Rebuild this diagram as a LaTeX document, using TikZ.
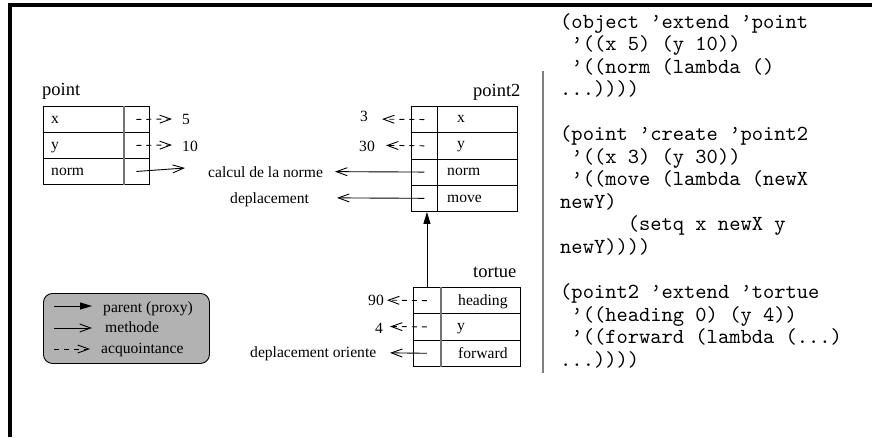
\documentclass[tikz,border=0pt]{standalone}
\usepackage{fontspec}
\setmainfont{Liberation Serif}
\newfontfamily\codefont{lmmono10-regular.otf}
\usetikzlibrary{arrows.meta}
\tikzset{
  cell/.style={draw, line width=0.9pt, inner sep=0pt, anchor=north west},
  divline/.style={draw=black!55, line width=1.6pt},
  txt/.style={font=\fontsize{15.6}{18}\selectfont, inner sep=0pt, anchor=base west},
  ttl/.style={font=\fontsize{18.5}{22}\selectfont, inner sep=0pt, anchor=base west},
  code/.style={font=\codefont\fontsize{21.47}{22.5}\selectfont, inner sep=0pt, anchor=base west},
  meth/.style={line width=0.9pt, -{Straight Barb[length=11pt,width=8pt]}},
  acq/.style={meth, dash pattern=on 5pt off 5pt},
  parent/.style={line width=0.9pt, -{Triangle[length=12pt,width=7pt]}},
}
\begin{document}
\begin{tikzpicture}[x=1pt,y=-1pt]
\useasboundingbox (0,0) rectangle (872,437);
% frame
\draw[line width=3.5pt] (10,437) -- (10,5) -- (872,5);
% separator
\draw[draw=black!50, line width=1.5pt] (543,71) -- (543,373);

% ---------- point ----------
\node[ttl] (tpoint) at (42,95) {point};
\node[cell, minimum width=80pt, minimum height=26pt] (pxk) at (43,106) {};
\node[cell, minimum width=26pt, minimum height=26pt] (pxv) at (123,106) {};
\node[cell, minimum width=80pt, minimum height=26pt] (pyk) at (43,132) {};
\node[cell, minimum width=26pt, minimum height=26pt] (pyv) at (123,132) {};
\node[cell, minimum width=80pt, minimum height=26pt] (pnk) at (43,158) {};
\node[cell, minimum width=26pt, minimum height=26pt] (pnv) at (123,158) {};
\draw[divline] (pxk.north east) -- (pnk.south east);
\node[txt] (lpx) at (51,123) {x};
\node[txt] (lpy) at (51,149) {y};
\node[txt] (lpn) at (51,175) {norm};
\node[txt] (v5) at (182,124) {5};
\node[txt] (v10) at (182,151) {10};
\coordinate (t5) at (172,119);
\coordinate (t10) at (172,145);
\coordinate (tn) at (185,168);
\draw[acq] (pxv.center) -- (t5);
\draw[acq] (pyv.center) -- (t10);
\draw[meth] (pnv.center) -- (tn);

\node[txt] (calc) at (208,177) {calcul de la norme};
\node[txt] (depl) at (230,203) {deplacement};

% ---------- point2 ----------
\node[ttl] (tpoint2) at (473,96) {point2};
\node[cell, minimum width=26pt, minimum height=26.25pt] (p2xk) at (411,106) {};
\node[cell, minimum width=80pt, minimum height=26.25pt] (p2xn) at (437,106) {};
\node[cell, minimum width=26pt, minimum height=26.25pt] (p2yk) at (411,132.25) {};
\node[cell, minimum width=80pt, minimum height=26.25pt] (p2yn) at (437,132.25) {};
\node[cell, minimum width=26pt, minimum height=26.25pt] (p2nk) at (411,158.5) {};
\node[cell, minimum width=80pt, minimum height=26.25pt] (p2nn) at (437,158.5) {};
\node[cell, minimum width=26pt, minimum height=26.25pt] (p2mk) at (411,184.75) {};
\node[cell, minimum width=80pt, minimum height=26.25pt] (p2mn) at (437,184.75) {};
\node[txt] (lp2x) at (457,122) {x};
\node[txt] (lp2y) at (457,148) {y};
\node[txt] (lp2n) at (447,175) {norm};
\node[txt] (lp2m) at (447,202) {move};
\node[txt] (v3) at (360,121) {3};
\node[txt] (v30) at (359,151) {30};
\coordinate (t3) at (382,119.125);
\coordinate (t30) at (386,145.375);
\coordinate (tnorme) at (335,171.625);
\coordinate (tdep) at (337,197.875);
\draw[acq] (p2xk.center) -- (t3);
\draw[acq] (p2yk.center) -- (t30);
\draw[meth] (p2nk.center) -- (tnorme);
\draw[meth] (p2mk.center) -- (tdep);

% ---------- tortue ----------
\node[ttl] (ttortue) at (473,277) {tortue};
\node[cell, minimum width=27pt, minimum height=26.33pt] (thk) at (413,287) {};
\node[cell, minimum width=80pt, minimum height=26.33pt] (thn) at (440,287) {};
\node[cell, minimum width=27pt, minimum height=26.33pt] (tyk) at (413,313.33) {};
\node[cell, minimum width=80pt, minimum height=26.33pt] (tyn) at (440,313.33) {};
\node[cell, minimum width=27pt, minimum height=26.33pt] (tfk) at (413,339.67) {};
\node[cell, minimum width=80pt, minimum height=26.33pt] (tfn) at (440,339.67) {};
\draw[divline] (thk.north east) -- (tfk.south east);
\node[txt] (lth) at (458,305) {heading};
\node[txt] (lty) at (457,330) {y};
\node[txt] (ltf) at (458,358) {forward};
\node[txt] (v90) at (368,305) {90};
\node[txt] (v4) at (375,333) {4};
\node[txt] (dor) at (250,357) {deplacement oriente};
\coordinate (t90) at (387,300.17);
\coordinate (t4) at (390,326.5);
\coordinate (tdo) at (390,352.83);
\draw[acq] (thk.center) -- (t90);
\draw[acq] (tyk.center) -- (t4);
\draw[meth] (tfk.center) -- (tdo);
\draw[parent] (thk.north) -- (thk.north |- p2mk.south);

% ---------- legend ----------
\node[draw, fill=black!30, rounded corners=9pt, line width=0.9pt,
      minimum width=166pt, minimum height=70pt, anchor=north west, inner sep=0pt] (legend) at (43,293) {};
\coordinate (l1s) at (54,306);
\coordinate (l1e) at (92,306);
\coordinate (l2s) at (54,328);
\coordinate (l2e) at (92,328);
\coordinate (l3s) at (54,349);
\coordinate (l3e) at (90,349);
\draw[parent] (l1s) -- (l1e);
\draw[meth] (l2s) -- (l2e);
\draw[acq] (l3s) -- (l3e);
\node[txt] (lg1) at (103,312) {parent (proxy)};
\node[txt] (lg2) at (105,332) {methode};
\node[txt] (lg3) at (101,353) {acquointance};

% ---------- code ----------
\node[code] (c0)  at (560,28)      {(object ’extend ’point};
\node[code] (c1)  at (571.27,50.55) {’((x 5) (y 10))};
\node[code] (c2)  at (571.27,73.1)  {’((norm (lambda ()};
\node[code] (c3)  at (560,95.65)   {...))))};
\node[code] (c5)  at (560,140.75)  {(point ’create ’point2};
\node[code] (c6)  at (571.27,163.3) {’((x 3) (y 30))};
\node[code] (c7)  at (571.27,185.85) {’((move (lambda (newX};
\node[code] (c8)  at (560,208.4)   {newY)};
\node[code] (c9)  at (627.6,230.95) {(setq x newX y};
\node[code] (c10) at (560,253.5)   {newY))))};
\node[code] (c12) at (560,298.6)   {(point2 ’extend ’tortue};
\node[code] (c13) at (571.27,321.15) {’((heading 0) (y 4))};
\node[code] (c14) at (571.27,343.7) {’((forward (lambda (...)};
\node[code] (c15) at (560,366.25)  {...))))};
\end{tikzpicture}
\end{document}
